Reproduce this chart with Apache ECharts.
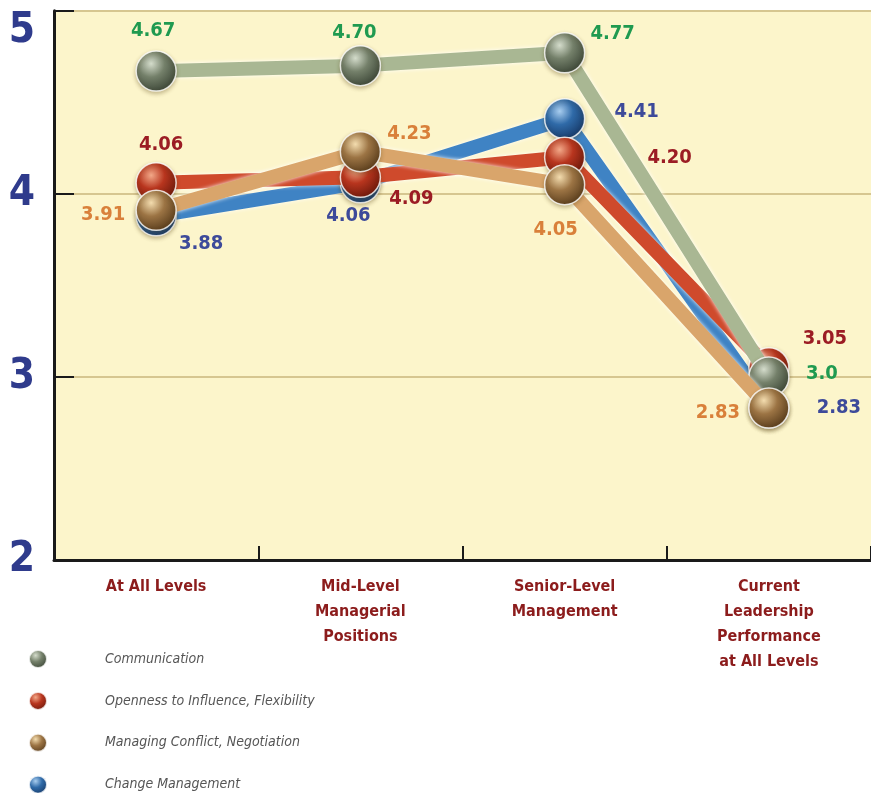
<!DOCTYPE html>
<html>
<head>
<meta charset="utf-8">
<script src="https://cdn.jsdelivr.net/npm/echarts@6/dist/echarts.min.js"></script>
<style>
  html, body { margin: 0; padding: 0; background: #ffffff; }
  #chart { width: 871px; height: 793px; }
</style>
</head>
<body>
<div id="chart"></div>
<script>
// Categories along the x axis
const categories = [
  'At All Levels',
  'Mid-Level\nManagerial\nPositions',
  'Senior-Level\nManagement',
  'Current\nLeadership\nPerformance\nat All Levels'
];

// Series values
const communication = [4.67, 4.70, 4.77, 3.0];
const openness = [4.06, 4.09, 4.20, 3.05];
const conflict = [3.91, 4.23, 4.05, 2.83];
const change = [3.88, 4.06, 4.41, 2.83];

// Printed value labels
const communicationText = ['4.67', '4.70', '4.77', '3.0'];
const opennessText = ['4.06', '4.09', '4.20', '3.05'];
const conflictText = ['3.91', '4.23', '4.05', '2.83'];
const changeText = ['3.88', '4.06', '4.41', '2.83'];

// Y axis range
const yMin = 2, yMax = 5, yStep = 1;

const NARROW = "'Liberation Sans Narrow', 'DejaVu Sans Condensed', 'Liberation Sans', sans-serif";

function sphere(light, mid, dark) {
  return {
    type: 'radial', x: 0.38, y: 0.32, r: 0.72,
    colorStops: [
      { offset: 0, color: light },
      { offset: 0.45, color: mid },
      { offset: 1, color: dark }
    ]
  };
}

function makeSeries(name, values, texts, lineColor, ball, labelColor, offsets, z) {
  return {
    name: name,
    type: 'line',
    z: z,
    symbol: 'circle',
    symbolSize: 40,
    data: values.map((v, i) => ({
      value: v,
      label: { offset: offsets[i], formatter: texts[i] }
    })),
    lineStyle: {
      width: 14, color: lineColor,
      shadowColor: 'rgba(255,255,255,0.95)', shadowBlur: 4
    },
    itemStyle: {
      color: ball,
      borderColor: 'rgba(255,255,255,0.8)', borderWidth: 1.5,
      shadowColor: 'rgba(90,70,20,0.35)', shadowBlur: 4, shadowOffsetY: 2
    },
    label: {
      show: true, position: 'inside',
      color: labelColor, fontSize: 20, fontWeight: 'bold', fontFamily: NARROW
    },
    emphasis: { disabled: true },
    animation: false
  };
}

const chart = echarts.init(document.getElementById('chart'));

chart.setOption({
  backgroundColor: '#ffffff',
  animation: false,
  grid: {
    left: 54, top: 10.7, width: 824, bottom: 233,
    show: true, backgroundColor: '#fcf5cb', borderWidth: 0
  },
  // One legend entry per row: a narrow horizontal box wraps after each item
  legend: {
    orient: 'horizontal',
    left: 28, top: 649, width: 10, padding: 0,
    icon: 'circle',
    itemWidth: 18, itemHeight: 18, itemGap: 21.9,
    data: ['Communication', 'Openness to Influence, Flexibility', 'Managing Conflict, Negotiation', 'Change Management'],
    textStyle: {
      color: '#555555', fontSize: 14, fontStyle: 'italic', fontFamily: NARROW,
      lineHeight: 18, padding: [0, 0, 0, 53]
    },
    selectedMode: false
  },
  xAxis: {
    type: 'category',
    data: categories,
    boundaryGap: true,
    axisLine: { lineStyle: { color: '#1a1a1a', width: 3 } },
    axisTick: { show: true, inside: true, length: 14, interval: 0, lineStyle: { color: '#1a1a1a', width: 2 } },
    axisLabel: {
      interval: 0, margin: 14,
      color: '#8c1c1c', fontSize: 16, fontWeight: 'bold', fontFamily: NARROW,
      lineHeight: 25, align: 'center'
    },
    splitLine: { show: false }
  },
  yAxis: {
    type: 'value',
    min: yMin, max: yMax, interval: yStep,
    axisLine: { show: true, lineStyle: { color: '#1a1a1a', width: 3 } },
    axisTick: { show: true, inside: true, length: 20, lineStyle: { color: '#1a1a1a', width: 2 } },
    axisLabel: {
      margin: 19,
      color: '#2f3b8c', fontSize: 42, fontWeight: 'bold', fontFamily: NARROW,
      formatter: v => (v === yMax ? '{top|' + v + '}' : '' + v),
      rich: { top: { fontSize: 42, fontWeight: 'bold', fontFamily: NARROW, color: '#2f3b8c', padding: [40, 0, 0, 0] } }
    },
    splitLine: { show: true, lineStyle: { color: '#d6c690', width: 2 } }
  },
  series: [
    makeSeries('Communication', communication, communicationText, '#a9b793',
      sphere('#d4dccb', '#74806a', '#3a4435'), '#1f9a50',
      [[-3, -40], [-6, -33], [48, -19], [53, -3]], 4),
    makeSeries('Openness to Influence, Flexibility', openness, opennessText, '#cf4a2c',
      sphere('#f2a888', '#b8351e', '#6a180b'), '#9b1c24',
      [[5, -38], [51, 21], [105, 1], [56, -29]], 3),
    makeSeries('Managing Conflict, Negotiation', conflict, conflictText, '#d9a56b',
      sphere('#f3dcae', '#9c7444', '#563a1a'), '#d9803a',
      [[-53, 5], [49, -18], [-9, 45], [-51, 5]], 5),
    makeSeries('Change Management', change, changeText, '#3f83c4',
      sphere('#a8cdef', '#2f6aa8', '#163866'), '#3d4a9a',
      [[45, 28], [-12, 33], [72, -7], [70, 0]], 2)
  ]
});
</script>
</body>
</html>
